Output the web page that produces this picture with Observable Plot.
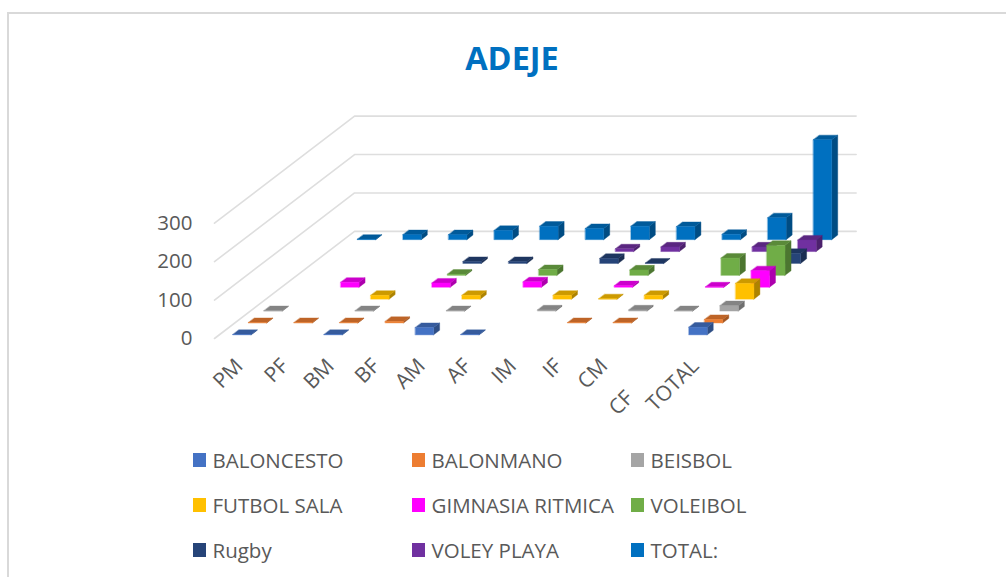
<!DOCTYPE html>
<html>
<head>
<meta charset="utf-8">
<script src="https://cdn.jsdelivr.net/npm/d3@7"></script>
<script src="https://cdn.jsdelivr.net/npm/@observablehq/plot@0.6"></script>
<style>
html,body{margin:0;padding:0;background:#fff;width:1006px;height:577px;overflow:hidden;font-family:"Open Sans",sans-serif}
#frame{position:absolute;left:7px;top:12px;width:1010px;height:580px;border-left:2px solid #d9d9d9;border-top:2px solid #d9d9d9}
#title{position:absolute;left:0;top:38px;width:1024px;text-align:center;color:#0070c0;font-weight:700;font-size:32.5px;line-height:40px;margin:0}
#chart{position:absolute;left:0;top:100px}
#legend{position:absolute;left:193px;top:438px;display:grid;grid-template-columns:219px 219px 200px;grid-auto-rows:44.7px;color:#595959;font-size:20.5px}
#legend div{display:flex;align-items:center;white-space:nowrap}
#legend i{display:inline-block;width:13px;height:14px;margin-right:6.5px;flex:none}
</style>
</head>
<body>
<div id="frame"></div>
<h1 id="title">ADEJE</h1>
<div id="chart"></div>
<div id="legend"></div>
<script>
const categories = ["PM","PF","BM","BF","AM","AF","IM","IF","CM","CF","TOTAL"];
const seriesNames = ["BALONCESTO","BALONMANO","BEISBOL","FUTBOL SALA","GIMNASIA RITMICA","VOLEIBOL","Rugby","VOLEY PLAYA","TOTAL:"];
const seriesColors = ["#4472c4","#ed7d31","#a5a5a5","#ffc000","#ff00ff","#70ad47","#264478","#7030a0","#0070c0"];
const baloncesto = [1,0,1,0,19,1,0,0,0,0,20];
const balonmano  = [1,1,1,4,0,0,0,1,1,0,9];
const beisbol    = [1,0,1,0,1,0,3,0,3,1,14];
const futbolSala = [0,0,10,0,10,0,10,1,10,0,41];
const gimnasia   = [0,13,0,11,0,14,0,4,0,1,43];
const voleibol   = [0,0,0,3,0,15,0,14,0,45,78];
const rugby      = [0,0,0,5,5,0,13,1,0,0,26];
const voleyPlaya = [0,0,0,0,0,0,7,12,0,12,30];
const totalSerie = [1,13,13,24,35,29,35,34,14,57,260];
const seriesValues = [baloncesto,balonmano,beisbol,futbolSala,gimnasia,voleibol,rugby,voleyPlaya,totalSerie];
const valueTicks = [0,100,200,300];

// oblique projection of (category, series depth, value) into the plot's x / y data space
const catPx = 45.6, depthXPx = 15.56, depthYPx = 11.9;
const pxPerValue = (338 - 222.7) / 300;
const project = (c, s, v) => ({X: c + s * depthXPx / catPx, Y: v + s * depthYPx / pxPerValue});
const shade = (col, k) => { const r = d3.rgb(col); return d3.rgb(r.r * k, r.g * k, r.b * k).formatHex(); };

const faces = [];
let id = 0;
const addFace = (pts, color) => { id++; for (const p of pts) faces.push({id, color, ...project(...p)}); };
const c0 = 0.299, c1 = 0.701, s0 = 0.307, s1 = 0.693;
for (let s = seriesValues.length - 1; s >= 0; s--) {
  seriesValues[s].forEach((v, c) => {
    if (!v) return;
    const col = seriesColors[s];
    const L = c + c0, R = c + c1, F = s + s0, B = s + s1;
    addFace([[R,F,0],[R,B,0],[R,B,v],[R,F,v]], shade(col, 0.68));
    addFace([[L,F,v],[R,F,v],[R,B,v],[L,B,v]], shade(col, 0.8));
    addFace([[L,F,0],[R,F,0],[R,F,v],[L,F,v]], col);
  });
}
const grid = valueTicks.flatMap(v => [[0,0,v],[0,9,v],[11,9,v]].map(p => ({v, ...project(...p)})));

const plot = Plot.plot({
  width: 1006, height: 320,
  marginLeft: 196, marginBottom: 58, marginTop: 0, marginRight: 0,
  x: {domain: [0, 11], range: [214, 214 + 11 * catPx]},
  y: {domain: [0, 300], range: [238, 122.7]},
  style: {background: "transparent", color: "#595959", fontFamily: "'Open Sans', sans-serif"},
  marks: [
    Plot.line(grid, {x: "X", y: "Y", z: "v", stroke: "#dedede", strokeWidth: 1.6}),
    Plot.line(faces, {x: "X", y: "Y", z: "id", fill: "color", stroke: "color", strokeWidth: 0.4, curve: "linear-closed"}),
    Plot.axisY(valueTicks, {anchor: "left", tickSize: 0, tickPadding: 4, fontSize: 20.5, label: null, color: "#595959"}),
    Plot.axisX(categories.map((d, i) => i + 0.5).filter(t => categories[Math.floor(t)] !== "CF"),
      {anchor: "bottom", tickSize: 0, tickPadding: 0, tickRotate: -45, fontSize: 21, dx: 2, label: null,
       tickFormat: t => categories[Math.floor(t)], color: "#595959"}),
    Plot.axisX([categories.indexOf("CF") + 0.5],
      {anchor: "bottom", tickSize: 0, tickPadding: 0, tickRotate: -45, fontSize: 21, dx: -18, dy: 32, label: null,
       tickFormat: t => categories[Math.floor(t)], color: "#595959"})
  ]
});
document.getElementById("chart").append(plot);

const legend = document.getElementById("legend");
seriesNames.forEach((n, i) => {
  const d = document.createElement("div");
  const sw = document.createElement("i");
  sw.style.background = seriesColors[i];
  d.append(sw, document.createTextNode(n));
  legend.append(d);
});
</script>
</body>
</html>
